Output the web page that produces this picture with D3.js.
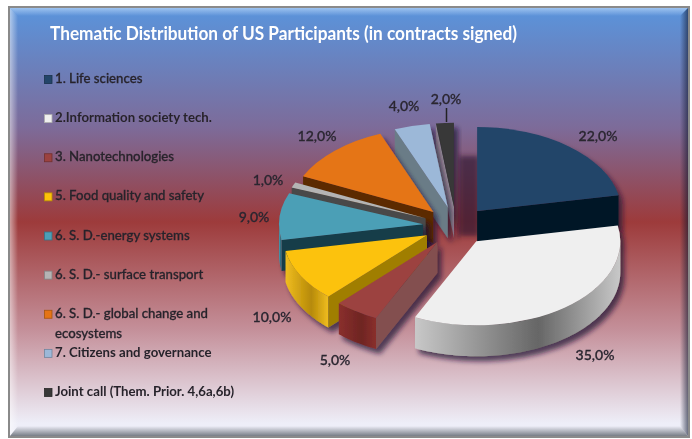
<!DOCTYPE html>
<html><head><meta charset="utf-8">
<script src="https://cdn.jsdelivr.net/npm/d3@7"></script>
<style>html,body{margin:0;padding:0;background:#fff}svg{display:block}text{font-family:Lato,"Open Sans",sans-serif}</style>
</head><body><svg id="c" width="692" height="439"></svg>
<script>
const categories=["1. Life sciences","2.Information society tech.","3. Nanotechnologies","5. Food quality and safety","6. S. D.-energy systems","6. S. D.- surface transport","6. S. D.- global change and ecosystems","7. Citizens and governance","Joint call (Them. Prior. 4,6a,6b)"];
const values=[22,35,5,10,9,1,12,4,2];
const valueLabels=["22,0%","35,0%","5,0%","10,0%","9,0%","1,0%","12,0%","4,0%","2,0%"];
const topColors=["#234569","#efefef","#9c4240","#fcc20a","#4c9fb6","#b4b4b4","#e57415","#9cb8d8","#383838"];
const cutColors=["#061727","#777","#83504f","#a07e00","#173c4a","#4a4a4a","#5c2c00","#6b7b87","#9a8f98"];
const wallLight=["#234569","#c8c8c8","#8a2f2d","#f0bd20","#4c9fb6","#999","#a85510","#8aa","#444"];
const wallDark=["#0b2036","#666","#6e2522","#b68a08","#2f6f80","#666","#7a3d08","#678","#222"];
const title="Thematic Distribution of US Participants (in contracts signed)";

const svg=d3.select("#c"),defs=svg.append("defs");
const cx=456,cy=226,rx=144,ry=84,depth=31,explode=0.23;

const bg=defs.append("linearGradient").attr("id","bg").attr("x1",0).attr("y1",0).attr("x2",0).attr("y2",1);
[[0,"#5a94dc"],[.28,"#7d6b99"],[.5,"#9d3b3b"],[.75,"#c48f99"],[.97,"#eeeef8"],[1,"#eeeef8"]].forEach(s=>bg.append("stop").attr("offset",s[0]).attr("stop-color",s[1]));
const f=defs.append("filter").attr("id","sh").attr("x","-30%").attr("y","-30%").attr("width","170%").attr("height","170%");
f.append("feDropShadow").attr("dx",4).attr("dy",5).attr("stdDeviation",2.4).attr("flood-color","#1d1030").attr("flood-opacity",.7);
defs.append("filter").attr("id","tb").append("feGaussianBlur").attr("stdDeviation",.38);
defs.append("filter").attr("id","pb").append("feGaussianBlur").attr("stdDeviation",.45);
defs.append("filter").attr("id","gap").append("feGaussianBlur").attr("stdDeviation",2.5);
values.forEach((v,i)=>{
  const g=defs.append("linearGradient").attr("id","w"+i).attr("x1",0).attr("y1",0).attr("x2",1).attr("y2",0);
  g.append("stop").attr("offset",0).attr("stop-color",wallLight[i]);
  g.append("stop").attr("offset",.6).attr("stop-color",wallDark[i]);
  g.append("stop").attr("offset",1).attr("stop-color",wallLight[i]);
});
function fade(id,x1,y1,x2,y2,col,op){
  const g=defs.append("linearGradient").attr("id",id).attr("x1",x1).attr("y1",y1).attr("x2",x2).attr("y2",y2);
  g.append("stop").attr("offset",0).attr("stop-color",col).attr("stop-opacity",op);
  g.append("stop").attr("offset",1).attr("stop-color",col).attr("stop-opacity",0);
}
fade("ft",0,0,0,1,"#d4e8ff",.55);
fade("fl",0,0,1,0,"#ffffff",.5);
fade("fr",1,0,0,0,"#101830",.6);
fade("fb",0,1,0,0,"#505860",.75);

// frame
svg.append("rect").attr("x",8).attr("y",6).attr("width",682).attr("height",432).attr("fill","#8a8a8a");
svg.append("rect").attr("x",10).attr("y",8).attr("width",678).attr("height",428).attr("fill","url(#bg)");
const bev=svg.append("g");
bev.append("path").attr("d","M10 8H688L680 16H18Z").attr("fill","url(#ft)");
bev.append("path").attr("d","M10 8L18 16V426L10 436Z").attr("fill","url(#fl)");
bev.append("path").attr("d","M688 8L680 16V426L688 436Z").attr("fill","url(#fr)");
bev.append("path").attr("d","M10 436L18 426H680L688 436Z").attr("fill","url(#fb)");

svg.append("text").attr("x",50).attr("y",40).attr("fill","#fff").attr("font-size",18.5).attr("font-weight",700).attr("filter","url(#tb)")
  .attr("textLength",467).attr("lengthAdjust","spacingAndGlyphs").text(title);

// legend
const legendY=d3.scalePoint().domain(categories).range([79,392]);
const lg=svg.append("g");
categories.forEach((c,i)=>{
  const y=legendY(c);
  lg.append("rect").attr("x",44.5).attr("y",y-3.5).attr("width",7.5).attr("height",8).attr("fill",topColors[i]).attr("stroke",d3.color(topColors[i]).darker(.9)).attr("stroke-width",.8);
  const t=lg.append("text").attr("x",55).attr("y",y+4).attr("fill","#28242c").attr("stroke","#28242c").attr("stroke-width",(i==8||i==1||i==7)?0:.3).attr("font-size",13.2).attr("font-weight",(i==8||i==1||i==7)?700:500).attr("filter","url(#tb)");
  if(i==6){
    t.append("tspan").attr("x",55).text("6. S. D.- global change and");
    t.append("tspan").attr("x",55).attr("dy",20).text("ecosystems");
  } else t.text(c);
});

// soft shadow in the gap behind the exploded slices
svg.append("rect").attr("x",cx+3).attr("y",cy-70).attr("width",20).attr("height",80).attr("fill","#2a1230").attr("opacity",.65).attr("filter","url(#gap)");

// pie
const pie=d3.pie().value(d=>d).sort(null);
const arcs=pie(values);
const arcGen=d3.arc().innerRadius(0).outerRadius(rx);
const px=a=>rx*Math.sin(a), py=a=>-ry*Math.cos(a);
const order=[8,7,6,5,4,0,3,2,1];
const pieG=svg.append("g").attr("filter","url(#pb)");
order.forEach(i=>{
  const d=arcs[i],mid=(d.startAngle+d.endAngle)/2;
  const ox=cx+explode*rx*Math.sin(mid),oy=cy-explode*ry*Math.cos(mid);
  const g=pieG.append("g").attr("transform",`translate(${ox},${oy})`).attr("filter","url(#sh)");
  const a0=d.startAngle,a1=d.endAngle;
  const face=a=>{const p=d3.path();p.moveTo(0,0);p.lineTo(px(a),py(a));p.lineTo(px(a),py(a)+depth);p.lineTo(0,depth);p.closePath();return p.toString();};
  const w0=Math.max(a0,Math.PI/2),w1=Math.min(a1,3*Math.PI/2);
  if(w1>w0){
    const p=d3.path();
    const n=Math.ceil((w1-w0)*40);
    const pts=d3.range(n+1).map(k=>w0+(w1-w0)*k/n);
    p.moveTo(px(w0),py(w0));
    pts.forEach(a=>p.lineTo(px(a),py(a)));
    pts.slice().reverse().forEach(a=>p.lineTo(px(a),py(a)+depth));
    p.closePath();
    g.append("path").attr("d",p.toString()).attr("fill",`url(#w${i})`);
  }
  if(Math.sin(a0)<0) g.append("path").attr("d",face(a0)).attr("fill",cutColors[i]);
  if(Math.sin(a1)>0) g.append("path").attr("d",face(a1)).attr("fill",cutColors[i]);
  g.append("path").attr("d",arcGen({startAngle:a0,endAngle:a1})).attr("transform",`scale(1,${ry/rx})`).attr("fill",topColors[i]);
});

// value labels
const labelPos=[[598,141],[595,360],[335,365],[272,322],[254,222],[268,185],[317,141],[404,111],[446,104]];
valueLabels.forEach((l,i)=>{
  svg.append("text").attr("x",labelPos[i][0]).attr("y",labelPos[i][1]).attr("text-anchor","middle").attr("fill","#2a2630").attr("stroke","#2a2630").attr("stroke-width",.3).attr("font-size",14).attr("font-weight",500).attr("filter","url(#tb)").text(l);
});
svg.append("line").attr("x1",446.5).attr("x2",446.5).attr("y1",108).attr("y2",122).attr("stroke","#222").attr("stroke-width",1.5);
</script></body></html>
